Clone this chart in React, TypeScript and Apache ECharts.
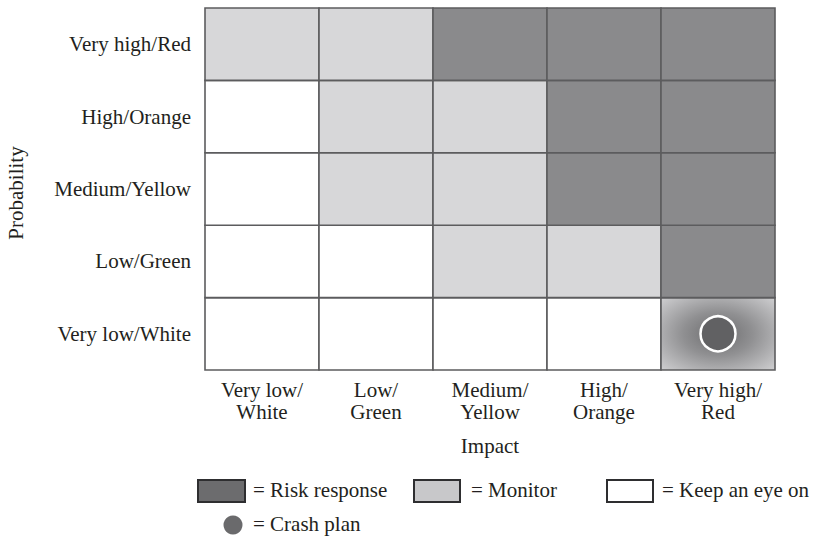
import React, { useEffect, useRef } from "react";
import * as echarts from "echarts";

const impactLabels = ["Very low/\nWhite", "Low/\nGreen", "Medium/\nYellow", "High/\nOrange", "Very high/\nRed"];
const probabilityLabels = ["Very low/White", "Low/Green", "Medium/Yellow", "High/Orange", "Very high/Red"];
// levels: 0 = keep an eye on, 1 = monitor, 2 = risk response; rows bottom (Very low) to top (Very high)
const levelRows = [
  [0, 0, 0, 0, 2],
  [0, 0, 1, 1, 2],
  [0, 1, 1, 2, 2],
  [0, 1, 1, 2, 2],
  [1, 1, 2, 2, 2],
];
const crashPlanCells = [[4, 0]];
const legendItems = ["= Risk response", "= Monitor", "= Keep an eye on", "= Crash plan"];

const FONT = "'Liberation Serif', 'DejaVu Serif', serif";
const DARK = "#8a8a8c";
const LIGHT = "#d7d7d9";
const WHITE = "#ffffff";
const levelColors = [WHITE, LIGHT, DARK];
const TEXT = "#231f20";

export default function App() {
  const ref = useRef<HTMLDivElement>(null);
  useEffect(() => {
    if (!ref.current) return;
    const chart = echarts.init(ref.current, null, { renderer: "svg" });
    const data: number[][] = [];
    levelRows.forEach((row, y) => {
      row.forEach((lvl, x) => {
        const isCrash = crashPlanCells.some((c) => c[0] === x && c[1] === y) ? 1 : 0;
        data.push([x, y, lvl, isCrash]);
      });
    });
    const crashGradient = {
      type: "radial",
      x: 0.5,
      y: 0.5,
      r: 0.68,
      colorStops: [
        { offset: 0, color: "#6c6c6e" },
        { offset: 0.45, color: "#909092" },
        { offset: 1, color: "#cbcbcd" },
      ],
    };
    const textStyle = { fontFamily: FONT, fontSize: 21, fill: TEXT };
    chart.setOption({
      animation: false,
      grid: { left: 205, top: 8, width: 570, height: 362, containLabel: false },
      xAxis: {
        type: "category",
        data: impactLabels,
        axisLine: { show: false },
        axisTick: { show: false },
        splitLine: { show: false },
        axisLabel: { interval: 0, fontFamily: FONT, fontSize: 21, color: TEXT, margin: 9, lineHeight: 22 },
      },
      yAxis: {
        type: "category",
        data: probabilityLabels,
        axisLine: { show: false },
        axisTick: { show: false },
        splitLine: { show: false },
        axisLabel: { interval: 0, fontFamily: FONT, fontSize: 21, color: TEXT, margin: 14 },
      },
      series: [
        {
          type: "custom",
          data,
          renderItem: (params: any, api: any) => {
            const x = api.value(0);
            const y = api.value(1);
            const lvl = api.value(2);
            const crash = api.value(3);
            const c = api.coord([x, y]);
            const s = api.size([1, 1]);
            return {
              type: "rect",
              shape: { x: c[0] - s[0] / 2, y: c[1] - s[1] / 2, width: s[0], height: s[1] },
              style: {
                fill: crash ? crashGradient : levelColors[lvl],
                stroke: "#5c5c5e",
                lineWidth: 1.6,
              },
            };
          },
          silent: true,
        },
        {
          type: "scatter",
          data: crashPlanCells,
          symbol: "circle",
          symbolSize: 35,
          itemStyle: { color: "#616163", borderColor: "#ffffff", borderWidth: 2.5, opacity: 1 },
          z: 5,
          silent: true,
        },
      ],
      graphic: [
        { type: "text", x: 490, y: 446, style: { ...textStyle, text: "Impact", textAlign: "center", textVerticalAlign: "middle" } },
        {
          type: "text",
          x: 16,
          y: 193,
          rotation: Math.PI / 2,
          style: { ...textStyle, text: "Probability", textAlign: "center", textVerticalAlign: "middle" },
        },
        { type: "rect", shape: { x: 198, y: 480, width: 47, height: 22 }, style: { fill: "#6c6c6e", stroke: "#2e2e30", lineWidth: 2 } },
        { type: "text", x: 253, y: 490, style: { ...textStyle, text: legendItems[0], textVerticalAlign: "middle" } },
        { type: "rect", shape: { x: 414, y: 480, width: 46, height: 22 }, style: { fill: "#c8c8ca", stroke: "#2e2e30", lineWidth: 2 } },
        { type: "text", x: 471, y: 490, style: { ...textStyle, text: legendItems[1], textVerticalAlign: "middle" } },
        { type: "rect", shape: { x: 607, y: 480, width: 46, height: 22 }, style: { fill: "#ffffff", stroke: "#2e2e30", lineWidth: 2 } },
        { type: "text", x: 662, y: 490, style: { ...textStyle, text: legendItems[2], textVerticalAlign: "middle" } },
        { type: "circle", shape: { cx: 233, cy: 525, r: 9.5 }, style: { fill: "#6a6a6c" } },
        { type: "text", x: 253, y: 524, style: { ...textStyle, text: legendItems[3], textVerticalAlign: "middle" } },
      ],
    });
    return () => chart.dispose();
  }, []);
  return <div ref={ref} style={{ position: "absolute", left: 0, top: 0, width: 815, height: 536 }} />;
}
